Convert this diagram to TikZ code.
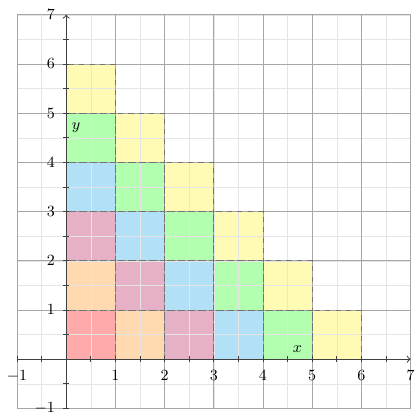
\documentclass[tikz,border=0pt]{standalone}
\usetikzlibrary{calc}
\definecolor{cellred}{RGB}{255,170,170}
\definecolor{cellorange}{RGB}{255,217,176}
\definecolor{cellpink}{RGB}{230,176,198}
\definecolor{cellblue}{RGB}{178,224,246}
\definecolor{cellgreen}{RGB}{178,255,176}
\definecolor{cellyellow}{RGB}{255,250,180}
\begin{document}
\begin{tikzpicture}[
  cellbox/.style={draw=black!55,dashed,thin},
  minorgrid/.style={black!10,very thin},
  majorgrid/.style={black!35,thin},
  axisline/.style={black!75,semithick,->},
  tickline/.style={black!75,thin},
  ticklabel/.style={font=\small,inner sep=2pt}
]
\useasboundingbox (-1.345,-1.077) rectangle (7.13,7.30);
% cells
\fill[cellred] (0,0) rectangle (1,1);
\fill[cellorange] (0,1) rectangle (1,2);
\fill[cellpink] (0,2) rectangle (1,3);
\fill[cellblue] (0,3) rectangle (1,4);
\fill[cellgreen] (0,4) rectangle (1,5);
\fill[cellyellow] (0,5) rectangle (1,6);
\fill[cellorange] (1,0) rectangle (2,1);
\fill[cellpink] (1,1) rectangle (2,2);
\fill[cellblue] (1,2) rectangle (2,3);
\fill[cellgreen] (1,3) rectangle (2,4);
\fill[cellyellow] (1,4) rectangle (2,5);
\fill[cellpink] (2,0) rectangle (3,1);
\fill[cellblue] (2,1) rectangle (3,2);
\fill[cellgreen] (2,2) rectangle (3,3);
\fill[cellyellow] (2,3) rectangle (3,4);
\fill[cellblue] (3,0) rectangle (4,1);
\fill[cellgreen] (3,1) rectangle (4,2);
\fill[cellyellow] (3,2) rectangle (4,3);
\fill[cellgreen] (4,0) rectangle (5,1);
\fill[cellyellow] (4,1) rectangle (5,2);
\fill[cellyellow] (5,0) rectangle (6,1);
% grid
\draw[minorgrid] (-1,-1) grid[step=0.5] (7,7);
\draw[majorgrid] (-1,-1) grid (7,7);
% dashed borders
\draw[cellbox] (0,0) rectangle (1,1);
\draw[cellbox] (0,1) rectangle (1,2);
\draw[cellbox] (0,2) rectangle (1,3);
\draw[cellbox] (0,3) rectangle (1,4);
\draw[cellbox] (0,4) rectangle (1,5);
\draw[cellbox] (0,5) rectangle (1,6);
\draw[cellbox] (1,0) rectangle (2,1);
\draw[cellbox] (1,1) rectangle (2,2);
\draw[cellbox] (1,2) rectangle (2,3);
\draw[cellbox] (1,3) rectangle (2,4);
\draw[cellbox] (1,4) rectangle (2,5);
\draw[cellbox] (2,0) rectangle (3,1);
\draw[cellbox] (2,1) rectangle (3,2);
\draw[cellbox] (2,2) rectangle (3,3);
\draw[cellbox] (2,3) rectangle (3,4);
\draw[cellbox] (3,0) rectangle (4,1);
\draw[cellbox] (3,1) rectangle (4,2);
\draw[cellbox] (3,2) rectangle (4,3);
\draw[cellbox] (4,0) rectangle (5,1);
\draw[cellbox] (4,1) rectangle (5,2);
\draw[cellbox] (5,0) rectangle (6,1);
% axes
\coordinate (xstart) at (-1,0);
\coordinate (xend) at (7,0);
\coordinate (ystart) at (0,-1);
\coordinate (yend) at (0,7);
\draw[axisline] (xstart) -- (xend);
\draw[axisline] (ystart) -- (yend);
\draw[tickline] (-1,-0.06) grid[xstep=0.5,ystep=0.12] (6.9,0.06);
\draw[tickline] (-0.06,-1) grid[xstep=0.12,ystep=0.5] (0.06,6.9);
% tick labels
\node[ticklabel,below] (xm1) at (-1,-0.15) {$-1$};
\node[ticklabel,below] (x1) at (1,-0.15) {$1$};
\node[ticklabel,below] (x2) at (2,-0.15) {$2$};
\node[ticklabel,below] (x3) at (3,-0.15) {$3$};
\node[ticklabel,below] (x4) at (4,-0.15) {$4$};
\node[ticklabel,below] (x5) at (5,-0.15) {$5$};
\node[ticklabel,below] (x6) at (6,-0.15) {$6$};
\node[ticklabel,below] (x7) at (7,-0.15) {$7$};
\node[ticklabel,left] (ym1) at (-0.15,-1) {$-1$};
\node[ticklabel,left] (y1) at (-0.15,1) {$1$};
\node[ticklabel,left] (y2) at (-0.15,2) {$2$};
\node[ticklabel,left] (y3) at (-0.15,3) {$3$};
\node[ticklabel,left] (y4) at (-0.15,4) {$4$};
\node[ticklabel,left] (y5) at (-0.15,5) {$5$};
\node[ticklabel,left] (y6) at (-0.15,6) {$6$};
\node[ticklabel,left] (y7) at (-0.15,7) {$7$};
% axis names
\node[font=\small] (xname) at (4.7,0.2) {$x$};
\node[font=\small] (yname) at (0.2,4.7) {$y$};
\end{tikzpicture}
\end{document}
